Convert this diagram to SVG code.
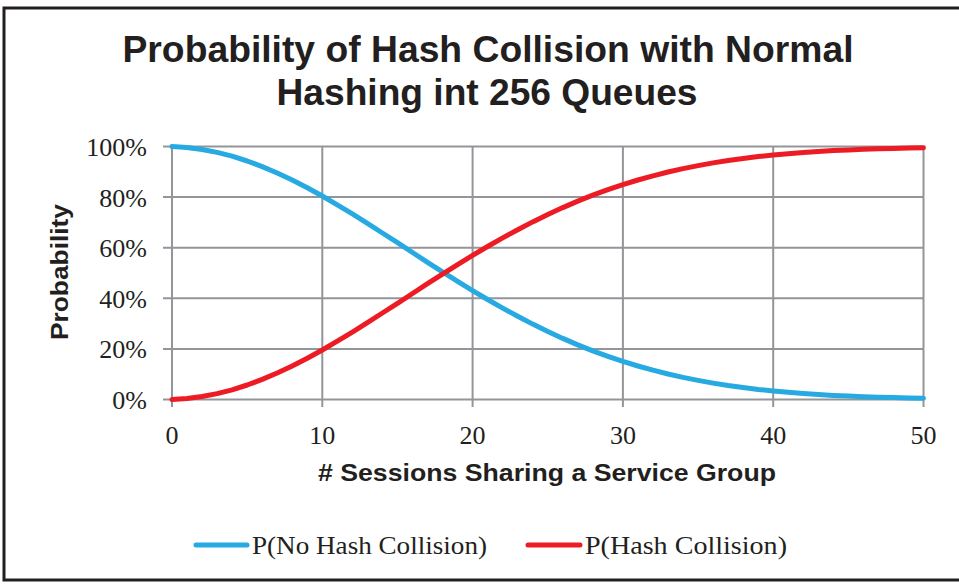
<svg xmlns="http://www.w3.org/2000/svg" width="959" height="584" viewBox="0 0 959 584">
  <style>
    .title { font-family: "Liberation Sans", Arial, sans-serif; font-weight: bold; font-size: 37px; fill: #231f20; text-anchor: middle; }
    .axis-title { font-family: "Liberation Sans", Arial, sans-serif; font-weight: bold; font-size: 24px; fill: #231f20; text-anchor: middle; }
    .tick { font-family: "Liberation Serif", "Times New Roman", serif; font-size: 26px; fill: #231f20; }
    .legend { font-family: "Liberation Serif", "Times New Roman", serif; font-size: 26px; fill: #231f20; }
    .grid line { stroke: #939598; stroke-width: 2; }
    .series { fill: none; stroke-width: 5; stroke-linejoin: round; stroke-linecap: round; }
    .blue { stroke: #27aae1; }
    .red { stroke: #ed1c24; }
  </style>

  <rect x="0" y="0" width="959" height="584" fill="#ffffff"/>
  <!-- outer frame -->
  <rect x="4" y="8" width="1000" height="572" fill="none" stroke="#231f20" stroke-width="3"/>

  <!-- title -->
  <g id="title">
    <text class="title" x="488" y="62" textLength="731" lengthAdjust="spacingAndGlyphs">Probability of Hash Collision with Normal</text>
    <text class="title" x="487" y="105" textLength="421" lengthAdjust="spacingAndGlyphs">Hashing int 256 Queues</text>
  </g>

  <!-- gridlines and ticks -->
  <g id="grid" class="grid">
    <line x1="163" y1="146.5" x2="923.5" y2="146.5"/>
    <line x1="163" y1="197.1" x2="923.5" y2="197.1"/>
    <line x1="163" y1="247.7" x2="923.5" y2="247.7"/>
    <line x1="163" y1="298.3" x2="923.5" y2="298.3"/>
    <line x1="163" y1="348.9" x2="923.5" y2="348.9"/>
    <line x1="163" y1="399.5" x2="923.5" y2="399.5"/>
    <line x1="172" y1="146.5" x2="172" y2="407"/>
    <line x1="322.3" y1="146.5" x2="322.3" y2="407"/>
    <line x1="472.6" y1="146.5" x2="472.6" y2="407"/>
    <line x1="622.9" y1="146.5" x2="622.9" y2="407"/>
    <line x1="773.2" y1="146.5" x2="773.2" y2="407"/>
    <line x1="923.5" y1="146.5" x2="923.5" y2="407"/>
  </g>

  <!-- y axis labels -->
  <g id="y-axis" class="tick" text-anchor="end">
    <text x="147" y="156">100%</text>
    <text x="147" y="206.6">80%</text>
    <text x="147" y="257.2">60%</text>
    <text x="147" y="307.8">40%</text>
    <text x="147" y="358.4">20%</text>
    <text x="147" y="409">0%</text>
  </g>
  <text id="y-title" class="axis-title" transform="translate(68 272) rotate(-90)" textLength="136" lengthAdjust="spacingAndGlyphs">Probability</text>

  <!-- x axis labels -->
  <g id="x-axis" class="tick" text-anchor="middle">
    <text x="172" y="444">0</text>
    <text x="322.3" y="444">10</text>
    <text x="472.6" y="444">20</text>
    <text x="622.9" y="444">30</text>
    <text x="773.2" y="444">40</text>
    <text x="923.5" y="444">50</text>
  </g>
  <text id="x-title" class="axis-title" x="547" y="481" textLength="458" lengthAdjust="spacingAndGlyphs"># Sessions Sharing a Service Group</text>

  <!-- data series -->
  <g id="connectors">
    <polyline id="no-collision" class="series blue" points="172.0,146.5 187.0,147.5 202.1,149.5 217.1,152.4 232.1,156.2 247.2,161.0 262.2,166.6 277.2,173.0 292.2,180.0 307.3,187.7 322.3,196.0 337.3,204.8 352.4,213.9 367.4,223.3 382.4,233.0 397.5,242.7 412.5,252.5 427.5,262.3 442.5,271.9 457.6,281.4 472.6,290.6 487.6,299.5 502.7,308.1 517.7,316.3 532.7,324.1 547.8,331.5 562.8,338.4 577.8,344.9 592.8,350.8 607.9,356.3 622.9,361.4 637.9,366.0 653.0,370.2 668.0,374.0 683.0,377.4 698.1,380.4 713.1,383.1 728.1,385.5 743.1,387.5 758.2,389.4 773.2,390.9 788.2,392.3 803.3,393.5 818.3,394.5 833.3,395.4 848.4,396.1 863.4,396.7 878.4,397.2 893.4,397.6 908.5,398.0 923.5,398.3"/>
    <polyline id="collision" class="series red" points="172.0,399.5 187.0,398.5 202.1,396.5 217.1,393.6 232.1,389.8 247.2,385.0 262.2,379.4 277.2,373.0 292.2,366.0 307.3,358.2 322.3,350.0 337.3,341.2 352.4,332.1 367.4,322.7 382.4,313.0 397.5,303.3 412.5,293.5 427.5,283.7 442.5,274.1 457.6,264.6 472.6,255.4 487.6,246.5 502.7,237.9 517.7,229.7 532.7,221.9 547.8,214.5 562.8,207.6 577.8,201.1 592.8,195.2 607.9,189.7 622.9,184.6 637.9,180.0 653.0,175.8 668.0,172.0 683.0,168.6 698.1,165.6 713.1,162.9 728.1,160.5 743.1,158.5 758.2,156.6 773.2,155.1 788.2,153.7 803.3,152.5 818.3,151.5 833.3,150.6 848.4,149.9 863.4,149.3 878.4,148.8 893.4,148.4 908.5,148.0 923.5,147.7"/>
  </g>

  <!-- legend -->
  <g id="legend-no-collision">
    <line x1="196" y1="545" x2="247" y2="545" class="series blue"/>
    <text class="legend" x="252" y="554" textLength="235" lengthAdjust="spacingAndGlyphs">P(No Hash Collision)</text>
  </g>
  <g id="legend-collision">
    <line x1="528" y1="545" x2="580" y2="545" class="series red"/>
    <text class="legend" x="585" y="554" textLength="202" lengthAdjust="spacingAndGlyphs">P(Hash Collision)</text>
  </g>
</svg>
